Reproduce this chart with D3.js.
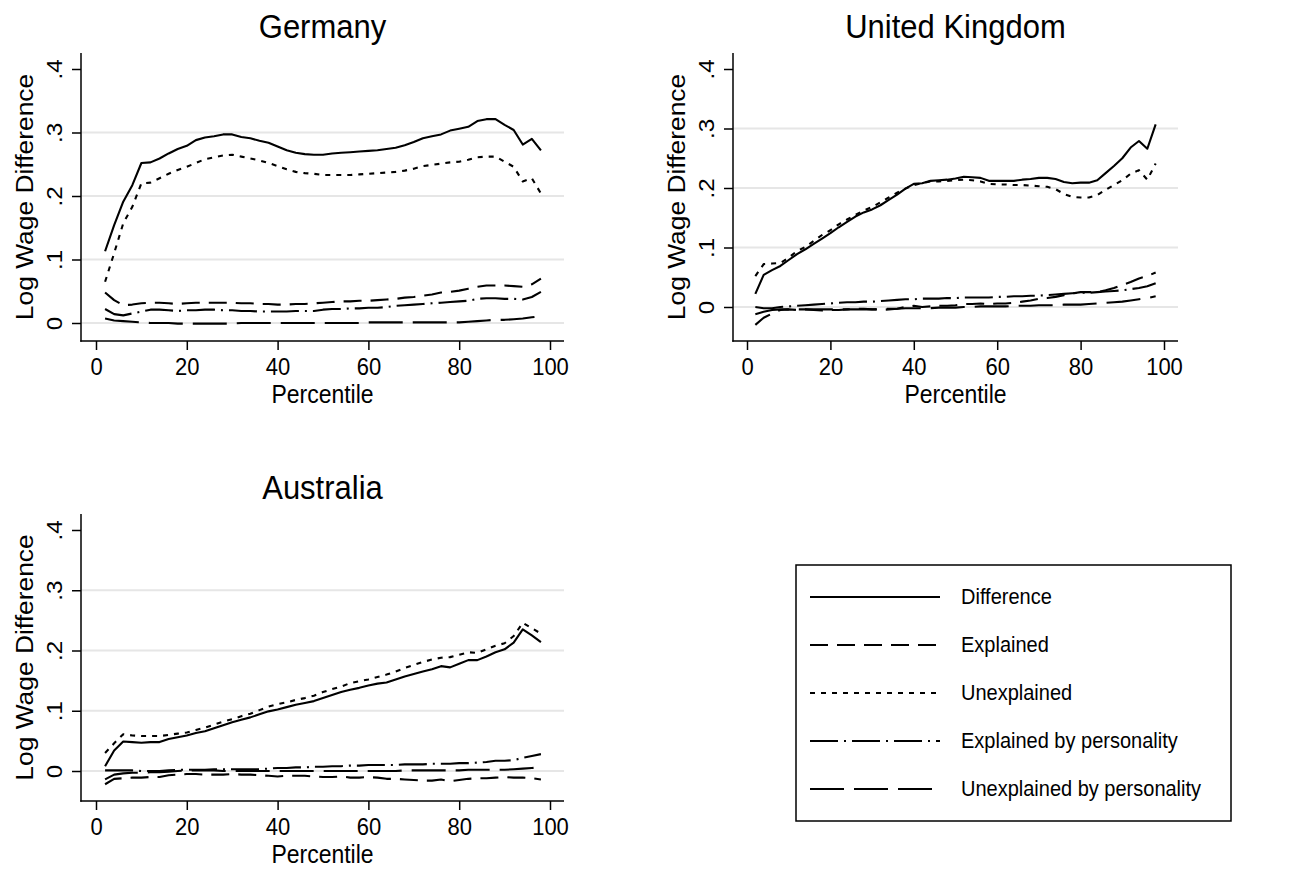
<!DOCTYPE html>
<html>
<head>
<meta charset="utf-8">
<script src="https://cdn.jsdelivr.net/npm/d3@7/dist/d3.min.js"></script>
<style>
  body { margin: 0; background: #fff; }
  svg { font-family: "Liberation Sans", Arial, Helvetica, sans-serif; }
</style>
</head>
<body>
<div class="canvas"></div>
<script>
// x values: percentiles of the wage distribution
const percentiles = [2, 4, 6, 8, 10, 12, 14, 16, 18, 20, 22, 24, 26, 28, 30, 32, 34, 36, 38, 40,
  42, 44, 46, 48, 50, 52, 54, 56, 58, 60, 62, 64, 66, 68, 70, 72, 74, 76, 78, 80,
  82, 84, 86, 88, 90, 92, 94, 96, 98];

const seriesNames = ['Difference', 'Explained', 'Unexplained', 'Explained by personality', 'Unexplained by personality'];
const xTicks = [0, 20, 40, 60, 80, 100];
const yTicks = [0, .1, .2, .3, .4];
const gridTicks = [0, .1, .2, .3];

// Germany
const deDiff = [0.113, 0.154, 0.191, 0.217, 0.252, 0.253, 0.259, 0.267, 0.274, 0.279,
  0.288, 0.292, 0.294, 0.297, 0.297, 0.293, 0.291, 0.287, 0.284, 0.278,
  0.272, 0.268, 0.266, 0.265, 0.265, 0.267, 0.268, 0.269, 0.270, 0.271,
  0.272, 0.274, 0.276, 0.280, 0.285, 0.291, 0.294, 0.297, 0.303, 0.306,
  0.309, 0.318, 0.321, 0.321, 0.312, 0.304, 0.281, 0.290, 0.272];
const deExpl = [0.048, 0.036, 0.028, 0.029, 0.031, 0.032, 0.032, 0.031, 0.030, 0.031,
  0.032, 0.032, 0.032, 0.032, 0.032, 0.031, 0.031, 0.030, 0.030, 0.029,
  0.029, 0.030, 0.030, 0.031, 0.032, 0.033, 0.034, 0.034, 0.035, 0.035,
  0.036, 0.037, 0.038, 0.040, 0.041, 0.043, 0.045, 0.048, 0.049, 0.051,
  0.054, 0.057, 0.059, 0.059, 0.059, 0.058, 0.057, 0.061, 0.070];
const deUnexpl = [0.065, 0.110, 0.157, 0.183, 0.220, 0.221, 0.228, 0.235, 0.241, 0.246,
  0.252, 0.258, 0.261, 0.264, 0.265, 0.262, 0.259, 0.256, 0.252, 0.247,
  0.242, 0.238, 0.236, 0.235, 0.233, 0.233, 0.233, 0.233, 0.234, 0.235,
  0.236, 0.237, 0.238, 0.240, 0.243, 0.247, 0.249, 0.251, 0.253, 0.254,
  0.257, 0.261, 0.262, 0.262, 0.254, 0.246, 0.223, 0.228, 0.204];
const deExplPers = [0.022, 0.014, 0.012, 0.015, 0.018, 0.021, 0.021, 0.020, 0.019, 0.020,
  0.020, 0.021, 0.021, 0.020, 0.020, 0.019, 0.019, 0.018, 0.018, 0.018,
  0.018, 0.019, 0.019, 0.019, 0.021, 0.022, 0.022, 0.023, 0.023, 0.024,
  0.024, 0.025, 0.027, 0.028, 0.029, 0.030, 0.031, 0.032, 0.033, 0.034,
  0.035, 0.038, 0.039, 0.039, 0.038, 0.038, 0.037, 0.041, 0.049];
const deUnexplPers = [0.007, 0.004, 0.003, 0.002, 0.001, 0.000, 0.000, 0.000, -0.001, -0.001,
  -0.001, -0.001, -0.001, -0.001, -0.001, 0.000, 0.000, 0.000, 0.000, 0.000,
  0.000, 0.000, 0.000, 0.000, 0.000, 0.000, 0.000, 0.000, 0.000, 0.001,
  0.001, 0.001, 0.001, 0.001, 0.001, 0.001, 0.001, 0.001, 0.001, 0.001,
  0.002, 0.003, 0.004, 0.005, 0.005, 0.006, 0.007, 0.009, 0.011];

// United Kingdom
const ukDiff = [0.022, 0.054, 0.062, 0.069, 0.079, 0.089, 0.097, 0.106, 0.115, 0.124,
  0.134, 0.143, 0.152, 0.159, 0.164, 0.171, 0.180, 0.189, 0.199, 0.207,
  0.208, 0.212, 0.213, 0.214, 0.216, 0.219, 0.218, 0.217, 0.212, 0.212,
  0.212, 0.212, 0.214, 0.215, 0.217, 0.217, 0.215, 0.210, 0.208, 0.209,
  0.209, 0.213, 0.225, 0.237, 0.250, 0.268, 0.279, 0.266, 0.307];
const ukExpl = [-0.030, -0.018, -0.011, -0.005, -0.004, -0.005, -0.004, -0.005, -0.006, -0.005,
  -0.005, -0.004, -0.003, -0.003, -0.004, -0.005, -0.004, -0.003, 0.000, 0.002,
  0.000, 0.001, 0.002, 0.002, 0.003, 0.005, 0.005, 0.006, 0.005, 0.006,
  0.006, 0.007, 0.009, 0.011, 0.014, 0.015, 0.017, 0.020, 0.023, 0.025,
  0.025, 0.025, 0.028, 0.032, 0.037, 0.042, 0.048, 0.052, 0.058];
const ukUnexpl = [0.052, 0.072, 0.073, 0.074, 0.083, 0.094, 0.101, 0.111, 0.121, 0.129,
  0.139, 0.147, 0.155, 0.162, 0.168, 0.176, 0.184, 0.192, 0.199, 0.205,
  0.208, 0.211, 0.211, 0.212, 0.213, 0.214, 0.213, 0.211, 0.207, 0.206,
  0.206, 0.205, 0.205, 0.204, 0.203, 0.202, 0.198, 0.190, 0.185, 0.184,
  0.184, 0.188, 0.197, 0.205, 0.213, 0.224, 0.230, 0.214, 0.241];
const ukExplPers = [0.000, -0.002, -0.002, 0.000, 0.001, 0.002, 0.003, 0.004, 0.005, 0.006,
  0.007, 0.008, 0.008, 0.009, 0.009, 0.010, 0.011, 0.012, 0.013, 0.013,
  0.014, 0.014, 0.014, 0.015, 0.015, 0.016, 0.016, 0.016, 0.016, 0.017,
  0.017, 0.018, 0.018, 0.019, 0.019, 0.020, 0.021, 0.022, 0.023, 0.024,
  0.024, 0.025, 0.026, 0.027, 0.028, 0.030, 0.032, 0.035, 0.040];
const ukUnexplPers = [-0.012, -0.008, -0.005, -0.004, -0.004, -0.004, -0.004, -0.004, -0.004, -0.004,
  -0.004, -0.004, -0.004, -0.004, -0.004, -0.003, -0.003, -0.003, -0.002, -0.002,
  -0.002, -0.002, -0.001, -0.001, -0.001, 0.000, 0.000, 0.001, 0.001, 0.001,
  0.001, 0.002, 0.002, 0.002, 0.003, 0.003, 0.003, 0.004, 0.004, 0.004,
  0.005, 0.006, 0.007, 0.008, 0.009, 0.011, 0.013, 0.015, 0.018];

// Australia
const auDiff = [0.008, 0.034, 0.049, 0.048, 0.047, 0.048, 0.048, 0.053, 0.056, 0.059,
  0.063, 0.066, 0.071, 0.076, 0.081, 0.085, 0.089, 0.094, 0.099, 0.102,
  0.106, 0.110, 0.113, 0.116, 0.121, 0.126, 0.131, 0.135, 0.138, 0.142,
  0.145, 0.147, 0.152, 0.157, 0.161, 0.165, 0.169, 0.174, 0.172, 0.178,
  0.184, 0.184, 0.190, 0.197, 0.202, 0.213, 0.235, 0.225, 0.214];
const auExpl = [-0.022, -0.013, -0.012, -0.011, -0.011, -0.010, -0.010, -0.007, -0.006, -0.005,
  -0.005, -0.006, -0.006, -0.006, -0.005, -0.006, -0.006, -0.007, -0.008, -0.009,
  -0.008, -0.008, -0.008, -0.009, -0.010, -0.010, -0.009, -0.011, -0.011, -0.010,
  -0.011, -0.013, -0.013, -0.014, -0.015, -0.016, -0.016, -0.014, -0.017, -0.015,
  -0.013, -0.012, -0.012, -0.011, -0.010, -0.011, -0.011, -0.012, -0.014];
const auUnexpl = [0.030, 0.046, 0.061, 0.059, 0.058, 0.058, 0.058, 0.060, 0.062, 0.064,
  0.068, 0.072, 0.077, 0.082, 0.086, 0.091, 0.095, 0.101, 0.107, 0.111,
  0.114, 0.118, 0.121, 0.125, 0.131, 0.136, 0.140, 0.146, 0.149, 0.152,
  0.156, 0.160, 0.165, 0.171, 0.176, 0.181, 0.185, 0.188, 0.189, 0.193,
  0.197, 0.196, 0.202, 0.208, 0.212, 0.224, 0.246, 0.237, 0.228];
const auExplPers = [0.001, 0.001, 0.001, 0.001, 0.000, 0.000, 0.000, 0.001, 0.002, 0.002,
  0.002, 0.002, 0.003, 0.003, 0.003, 0.003, 0.003, 0.003, 0.004, 0.005,
  0.005, 0.006, 0.006, 0.007, 0.007, 0.008, 0.008, 0.009, 0.009, 0.010,
  0.010, 0.010, 0.010, 0.011, 0.011, 0.011, 0.012, 0.012, 0.012, 0.013,
  0.013, 0.014, 0.015, 0.017, 0.017, 0.018, 0.022, 0.025, 0.028];
const auUnexplPers = [-0.014, -0.006, -0.004, -0.003, -0.003, -0.002, -0.002, -0.001, 0.000, 0.001,
  0.001, 0.001, 0.001, 0.000, 0.000, 0.000, 0.000, 0.000, 0.000, 0.000,
  0.000, 0.000, 0.000, 0.000, 0.000, 0.000, 0.000, 0.000, 0.000, 0.000,
  0.000, 0.000, 0.000, 0.001, 0.001, 0.001, 0.001, 0.001, 0.001, 0.001,
  0.002, 0.002, 0.002, 0.002, 0.002, 0.003, 0.004, 0.005, 0.006];

// line style per series (same order as seriesNames)
const dashes = [null, '18,9', '5,6', '28,6,2,6', '34,10'];

// text in the original is a little taller than wide
const textStretch = 1.1;

// panel layout: plot box, pixel positions of x=0/100 and y=0/.4
const panels = [
  {title: 'Germany', series: [deDiff, deExpl, deUnexpl, deExplPers, deUnexplPers],
   box: {left: 81, right: 564, top: 53, bottom: 341}, xRange: [96, 550], yRange: [323, 69]},
  {title: 'United Kingdom', series: [ukDiff, ukExpl, ukUnexpl, ukExplPers, ukUnexplPers],
   box: {left: 733, right: 1178, top: 53, bottom: 341}, xRange: [747, 1164], yRange: [307, 69]},
  {title: 'Australia', series: [auDiff, auExpl, auUnexpl, auExplPers, auUnexplPers],
   box: {left: 81, right: 564, top: 514, bottom: 801}, xRange: [96, 550], yRange: [771, 530]}
];

const svg = d3.select('.canvas')
  .append('svg')
    .attr('width', 1295)
    .attr('height', 869);

const fmtY = d => d === 0 ? '0' : d3.format('.1f')(d).slice(1);

panels.forEach(p => {
  const g = svg.append('g').attr('class', 'panel');
  const x = d3.scaleLinear().domain([0, 100]).range(p.xRange);
  const y = d3.scaleLinear().domain([0, .4]).range(p.yRange);

  // grid lines
  g.selectAll('line.grid')
    .data(gridTicks)
    .enter()
    .append('line')
      .attr('class', 'grid')
      .attr('x1', p.box.left)
      .attr('x2', p.box.right)
      .attr('y1', d => y(d))
      .attr('y2', d => y(d))
      .attr('stroke', '#e6e6e6')
      .attr('stroke-width', 2);

  // series lines
  const line = d3.line()
    .x((d, i) => x(percentiles[i]))
    .y(d => y(d));

  g.selectAll('path.series')
    .data(p.series)
    .enter()
    .append('path')
      .attr('class', 'series')
      .attr('fill', 'none')
      .attr('stroke', '#000')
      .attr('stroke-width', 2.1)
      .attr('stroke-linejoin', 'round')
      .attr('stroke-dasharray', (d, i) => dashes[i])
      .attr('d', d => line(d));

  // y axis
  const gy = g.append('g')
    .attr('transform', `translate(${p.box.left},0)`)
    .call(d3.axisLeft(y).tickValues(yTicks).tickSize(9).tickFormat(fmtY));
  gy.attr('font-family', null).attr('font-size', 22);
  gy.select('.domain').remove();
  gy.selectAll('.tick line').attr('stroke-width', 1.5);
  gy.selectAll('.tick text')
    .attr('x', 0)
    .attr('y', -19)
    .attr('dy', 0)
    .attr('transform', `scale(1,${textStretch}) rotate(-90)`)
    .attr('text-anchor', 'middle');

  // x axis
  const gx = g.append('g')
    .attr('transform', `translate(0,${p.box.bottom})`)
    .call(d3.axisBottom(x).tickValues(xTicks).tickSize(9));
  gx.attr('font-family', null).attr('font-size', 22);
  gx.select('.domain').remove();
  gx.selectAll('.tick line').attr('stroke-width', 1.5);
  gx.selectAll('.tick text')
    .attr('y', 0)
    .attr('dy', 0)
    .attr('transform', `translate(0,34) scale(1,${textStretch})`);

  // axis lines
  g.append('line')
    .attr('x1', p.box.left).attr('x2', p.box.left)
    .attr('y1', p.box.top).attr('y2', p.box.bottom + 0.75)
    .attr('stroke', '#000').attr('stroke-width', 1.5);
  g.append('line')
    .attr('x1', p.box.left - 0.75).attr('x2', p.box.right)
    .attr('y1', p.box.bottom).attr('y2', p.box.bottom)
    .attr('stroke', '#000').attr('stroke-width', 1.5);

  // axis titles
  g.append('text')
    .attr('transform', `translate(${(p.box.left + p.box.right) / 2},${p.box.bottom + 62}) scale(1,${textStretch})`)
    .attr('text-anchor', 'middle')
    .attr('font-size', 23)
    .text('Percentile');
  g.append('text')
    .attr('transform', `translate(${p.box.left - 48},${(p.box.top + p.box.bottom) / 2}) scale(1,${textStretch}) rotate(-90)`)
    .attr('text-anchor', 'middle')
    .attr('font-size', 24)
    .text('Log Wage Difference');

  // panel title
  g.append('text')
    .attr('transform', `translate(${(p.box.left + p.box.right) / 2},${p.box.top - 15}) scale(1,${textStretch})`)
    .attr('text-anchor', 'middle')
    .attr('font-size', 31)
    .text(p.title);
});

// legend
const legend = svg.append('g').attr('class', 'legend');
legend.append('rect')
  .attr('x', 796).attr('y', 565)
  .attr('width', 435).attr('height', 256)
  .attr('fill', '#fff')
  .attr('stroke', '#000')
  .attr('stroke-width', 1.5);

const items = legend.selectAll('g.item')
  .data(seriesNames)
  .enter()
  .append('g')
    .attr('class', 'item')
    .attr('transform', (d, i) => `translate(810,${597 + i * 48})`);

items.append('line')
  .attr('x1', 0).attr('x2', 130)
  .attr('stroke', '#000')
  .attr('stroke-width', 2.1)
  .attr('stroke-dasharray', (d, i) => dashes[i]);

items.append('text')
  .attr('transform', `translate(151,7) scale(1,${textStretch})`)
  .attr('font-size', 20)
  .text(d => d);
</script>
</body>
</html>
